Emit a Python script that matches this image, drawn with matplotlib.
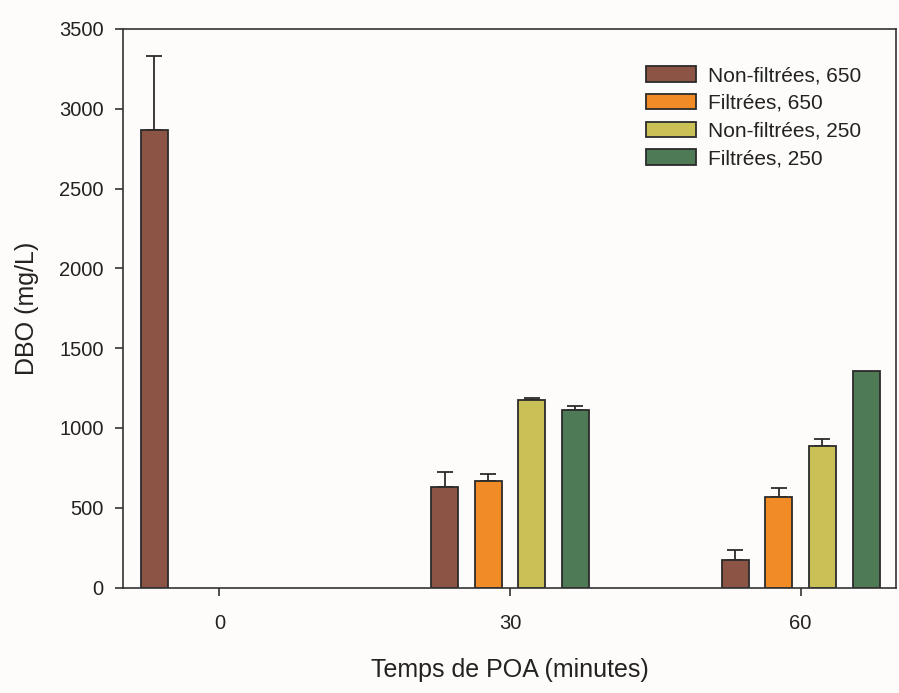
import numpy as np
import matplotlib
matplotlib.use("Agg")
import matplotlib.pyplot as plt

# DBO (mg/L) vs POA time for each sample type / wavelength
times = ["0", "30", "60"]
series = ["Non-filtrées, 650", "Filtrées, 650", "Non-filtrées, 250", "Filtrées, 250"]
nonfilt_650 = [2870, 630, 170]
filt_650 = [np.nan, 665, 567]
nonfilt_250 = [np.nan, 1175, 888]
filt_250 = [np.nan, 1115, 1356]
err_nonfilt_650 = [460, 95, 65]
err_filt_650 = [0, 45, 54]
err_nonfilt_250 = [0, 12, 44]
err_filt_250 = [0, 22, 0]

values = [nonfilt_650, filt_650, nonfilt_250, filt_250]
errors = [err_nonfilt_650, err_filt_650, err_nonfilt_250, err_filt_250]
colors = ["#8c5445", "#f08b25", "#c9c155", "#4f7a56"]

plt.rcParams["font.family"] = ["Liberation Sans", "DejaVu Sans"]
text_color = "#222222"
bg = "#fdfcfa"

fig = plt.figure(figsize=(8.99, 6.93), dpi=100, facecolor=bg)
ax = fig.add_axes([123 / 899, 1 - 587.5 / 693, (896 - 123) / 899, (587.5 - 29) / 693])
ax.set_facecolor(bg)

x = np.arange(len(times))
slot = 0.15
width = 0.093
for i, (vals, errs, col, lab) in enumerate(zip(values, errors, colors, series)):
    pos = x + (i - 1.5) * slot
    vals = np.array(vals, dtype=float)
    errs = np.array(errs, dtype=float)
    ax.bar(pos, vals, width=width, color=col, edgecolor="#2b2b2b",
           linewidth=1.3, label=lab, zorder=2)
    mask = ~np.isnan(vals) & (errs > 0)
    ax.errorbar(pos[mask], vals[mask],
                yerr=[np.zeros(mask.sum()), errs[mask]],
                fmt="none", ecolor="#2b2b2b", elinewidth=1.3,
                capsize=5.8, capthick=1.3, zorder=1)

ax.set_xlim(-0.332, 2.328)
ax.set_ylim(0, 3500)
ax.set_xticks(x)
ax.set_xticklabels(times)
ax.set_yticks(np.arange(0, 3501, 500))

for sp in ax.spines.values():
    sp.set_color("#333333")
    sp.set_linewidth(1.2)

ax.tick_params(axis="both", direction="out", length=6, width=1.2,
               colors="#333333", labelcolor=text_color, labelsize=14.5)
ax.tick_params(axis="x", pad=13)
ax.tick_params(axis="y", pad=8)

ax.set_xlabel("Temps de POA (minutes)", fontsize=18, color=text_color, labelpad=18)
ax.set_ylabel("DBO (mg/L)", fontsize=18, color=text_color, labelpad=14)

leg = ax.legend(loc="upper left", bbox_to_anchor=(646 / 899, 1 - 66 / 693),
                bbox_transform=fig.transFigure, frameon=False, fontsize=15,
                handlelength=2.4, handleheight=0.77, handletextpad=0.6,
                labelspacing=0.42, borderpad=0, borderaxespad=0)
for t in leg.get_texts():
    t.set_color(text_color)

fig.savefig("out.png", dpi=100, facecolor=bg)
